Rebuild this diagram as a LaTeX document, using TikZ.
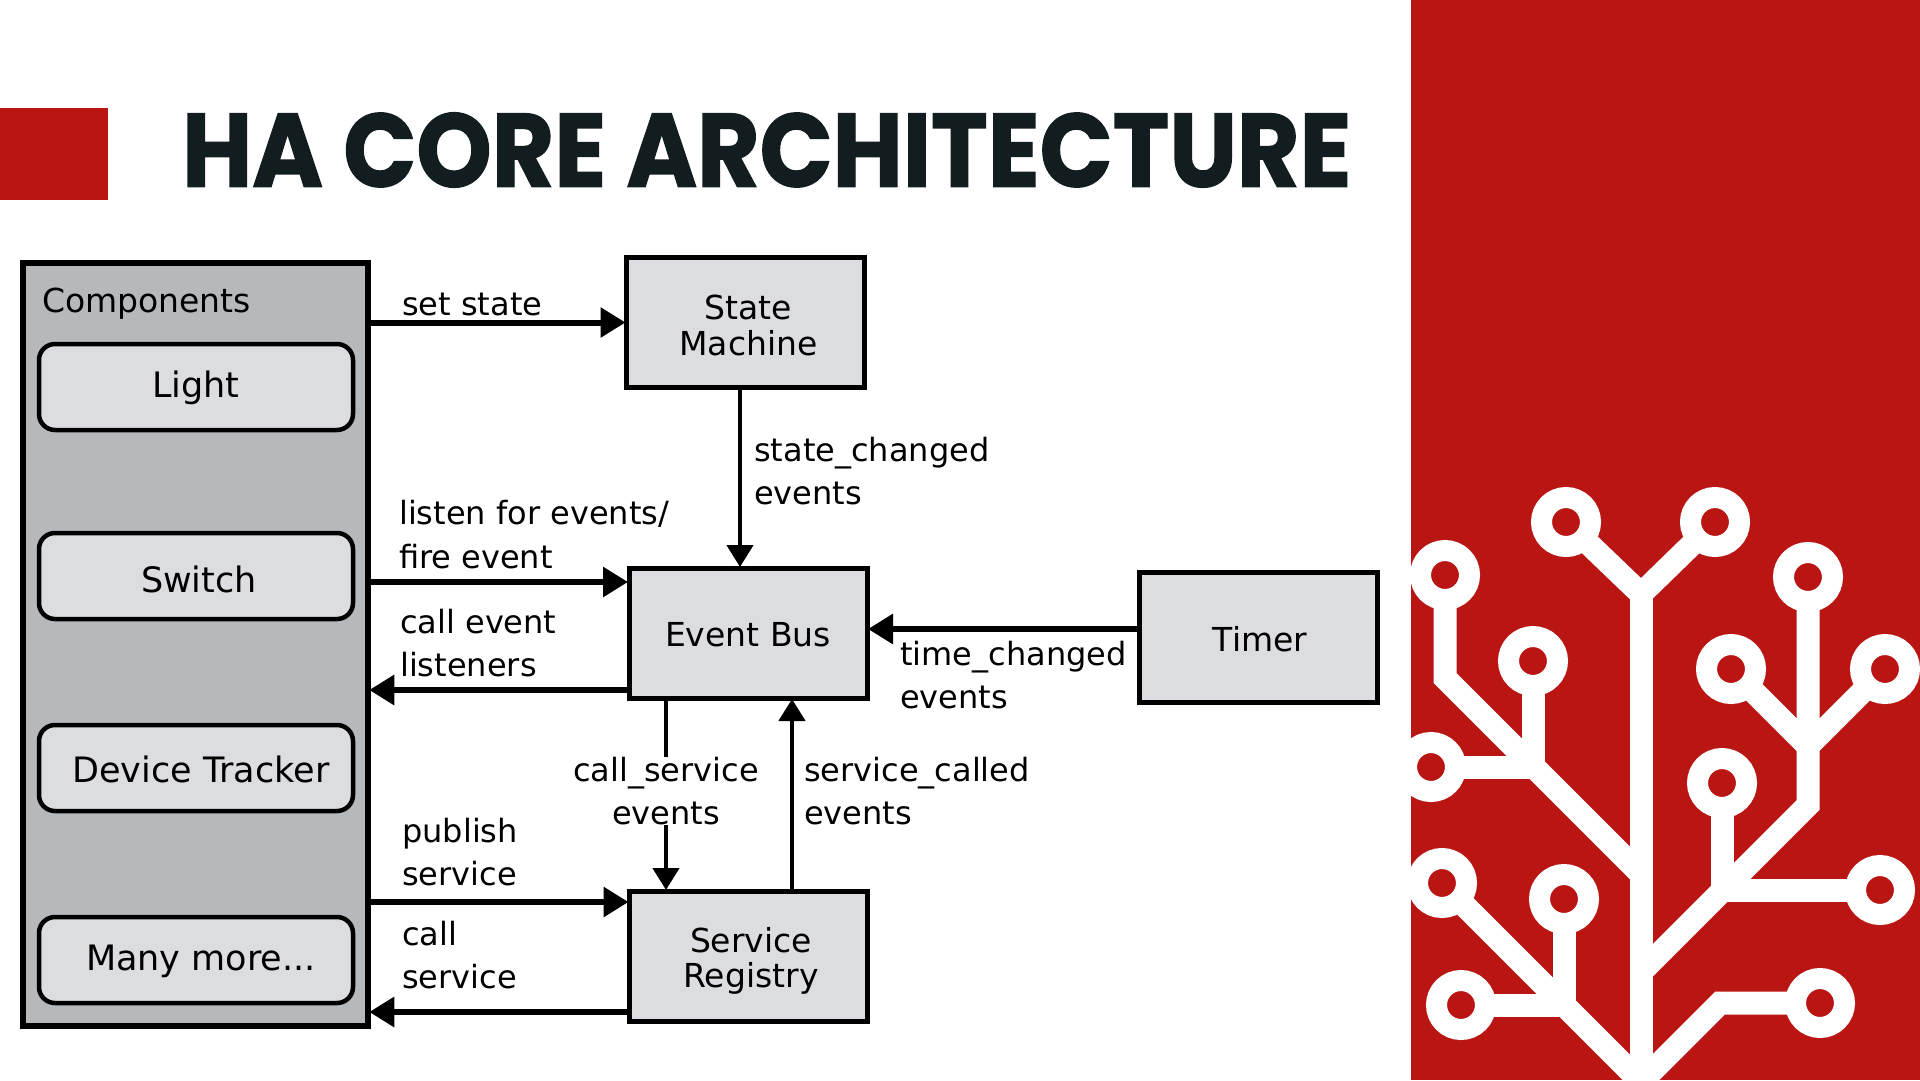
\documentclass[tikz,border=0pt]{standalone}
\usepackage{fontspec}
\usepackage{tikz}
\usetikzlibrary{positioning, arrows.meta, calc}
\setmainfont{DejaVu Sans}
\newfontfamily\titlefont[BoldFeatures={FakeBold=1.4}]{Poppins}
\definecolor{hared}{HTML}{B91613}
\definecolor{hatitle}{HTML}{121D20}
\definecolor{hapanel}{HTML}{B6B9BC}
\definecolor{habox}{HTML}{DCDDE0}
\tikzset{
    x=1pt, y=-1pt,
    block/.style={draw=black, line width=5pt, fill=habox, minimum width=238pt, minimum height=130pt, inner sep=0pt},
    blocktext/.style={font=\fontsize{33}{35.5}\selectfont, align=center, inner sep=0pt},
    comp/.style={draw=black, line width=4.5pt, fill=habox, rounded corners=16pt, minimum width=314pt, minimum height=86pt, inner sep=0pt},
    comptext/.style={font=\fontsize{35}{40}\selectfont, inner sep=0pt},
    note/.style={font=\fontsize{32}{43.5}\selectfont, align=left, inner sep=0pt, anchor=west},
    flow/.style={line width=6pt, -{Triangle[length=25pt, width=29pt]}, shorten >=-1.5pt},
    thinflow/.style={line width=4.5pt, -{Triangle[length=22pt, width=26pt]}, shorten >=-1.5pt},
    branch/.style={white, line width=23pt, miter limit=10},
    pad/.style={circle, draw=white, fill=hared, line width=21pt, minimum size=49pt, inner sep=0pt},
}
\begin{document}
\begin{tikzpicture}
    \useasboundingbox (0,0) rectangle (1920,1080);
    \fill [white] (0,0) rectangle (1920,1080);
    % title and panel
    \fill [hared] (0,108) rectangle (108,200);
    \fill [hared] (1411,0) rectangle (1920,1080);
    \node (title) [anchor=west, inner sep=0pt, text=hatitle] at (182,150) {\scalebox{0.922}[1]{\titlefont\bfseries\fontsize{104}{104}\selectfont HA CORE ARCHITECTURE}};
    % logo
    \begin{scope}
        \clip (1411,0) rectangle (1920,1080);
        \draw [branch] (1566,522) -- (1641,594) -- (1715,522);
        \draw [branch] (1641,594) -- (1641,1090);
        \draw [branch] (1445,575) -- (1445,678) -- (1641,874);
        \draw [branch] (1533,661) -- (1533,766);
        \draw [branch] (1431,767) -- (1533,767);
        \draw [branch] (1442,883) -- (1641,1082);
        \draw [branch] (1564,899) -- (1564,1005);
        \draw [branch] (1461,1005) -- (1564,1005);
        \draw [branch] (1820,1003) -- (1720,1003) -- (1641,1082);
        \draw [branch] (1808,577) -- (1808,805) -- (1641,972);
        \draw [branch] (1731,669) -- (1808,746) -- (1885,669);
        \draw [branch] (1722,783) -- (1722,891);
        \draw [branch] (1880,890) -- (1722,890);
        \foreach \px/\py in {1566/522, 1715/522, 1445/575, 1533/661, 1431/767, 1808/577, 1731/669, 1885/669, 1722/783, 1880/890, 1442/883, 1564/899, 1461/1005, 1820/1003}
            \node [pad] at (\px,\py) {};
    \end{scope}
    % components
    \node (panel) [draw=black, line width=5.5pt, fill=hapanel, minimum width=345pt, minimum height=763pt, inner sep=0pt] at (195.5,644.5) {};
    \node (comptitle) [note, font=\fontsize{33}{40}\selectfont] at (42,304) {Components};
    \node (light) [comp] at (196,387) {};
    \node (switch) [comp] at (196,576) {};
    \node (tracker) [comp] at (196,768) {};
    \node (more) [comp] at (196,960) {};
    \node (lighttext) [comptext] at (196,388) {Light};
    \node (switchtext) [comptext] at (199,579) {Switch};
    \node (trackertext) [comptext] at (201,769) {Device Tracker};
    \node (moretext) [comptext] at (201,961) {Many more...};
    % blocks
    \node (state) [block] at (745.5,322.5) {};
    \node (bus) [block] at (748,633) {};
    \node (registry) [block] at (748.5,956) {};
    \node (timer) [block] at (1258.5,637) {};
    \node (statetext) [blocktext] at (748.5,325.5) {State\\Machine};
    \node (bustext) [blocktext] at (748,635) {Event Bus};
    \node (registrytext) [blocktext] at (751,961) {Service\\Registry};
    \node (timertext) [blocktext] at (1260,639) {Timer};
    % connectors
    \draw [flow] (panel.east |- state.west) -- (state.west);
    \draw [thinflow] (state.south -| 740,0) -- (bus.north -| 740,0);
    \draw [flow] (panel.east |- 0,582) -- (bus.west |- 0,582);
    \draw [flow] (bus.west |- 0,690) -- (panel.east |- 0,690);
    \draw [flow] (timer.west |- 0,629) -- (bus.east |- 0,629);
    \draw [thinflow] (bus.south -| 666,0) -- (registry.north -| 666,0);
    \draw [thinflow] (registry.north -| 792,0) -- (bus.south -| 792,0);
    \draw [flow] (panel.east |- 0,902) -- (registry.west |- 0,902);
    \draw [flow] (registry.west |- 0,1012) -- (panel.east |- 0,1012);
    % labels
    \node (setlabel) [note] at (402,304) {set state};
    \node (changedlabel) [note] at (754,471) {state\_changed\\events};
    \node (listenlabel) [note] at (399,534.5) {listen for events/\\fire event};
    \node (calllabel) [note] at (400,643) {call event\\listeners};
    \node (timelabel) [note] at (900,675) {time\_changed\\events};
    \node (servicelabel) [note, anchor=center, align=center, fill=white] at (666,791) {call\_service\\events};
    \node (calledlabel) [note] at (804,791) {service\_called\\events};
    \node (publishlabel) [note] at (402,852) {publish\\service};
    \node (calllabeltwo) [note] at (402,955) {call\\service};
\end{tikzpicture}
\end{document}
